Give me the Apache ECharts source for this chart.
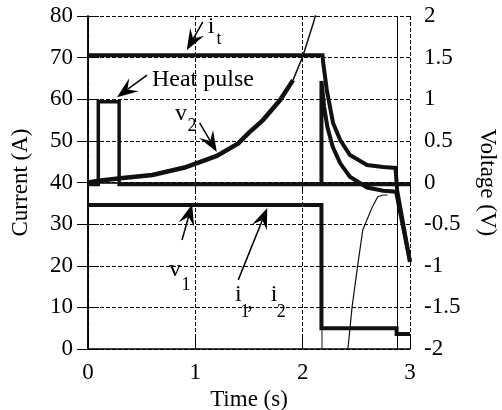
<!DOCTYPE html>
<html><head><meta charset="utf-8">
<script src="https://cdn.jsdelivr.net/npm/echarts@6/dist/echarts.min.js"></script>
<style>html,body{margin:0;padding:0;background:#fff}#c{width:502px;height:410px}</style>
</head><body><div id="c"></div>
<script>
// ---- data (time in s, current in A, voltage in V) ----
// total current i_t (left axis)
const itTime = [0, 2.185, 2.19, 2.225, 2.255, 2.283, 2.35, 2.44, 2.6, 2.75, 2.865, 2.88, 3.0];
const itCurr = [70.6, 70.6, 69, 62.2, 58.1, 54.3, 50.2, 46.6, 44.2, 43.7, 43.5, 38.2, 20.9];
// heat pulse with baseline (left axis)
const hpTime = [0, 0.096, 0.096, 0.29, 0.29, 3.0];
const hpCurr = [39.5, 39.5, 59.4, 59.4, 39.5, 39.5];
// i1, i2 (left axis)
const i12Time = [0, 2.175, 2.175, 2.875, 2.875, 3.0];
const i12Curr = [34.6, 34.6, 5.0, 5.0, 3.6, 3.6];
// edge below the step (left axis)
const edgeTime = [2.18, 2.18];
const edgeCurr = [0, 5.0];
// v2 rising part (right axis)
const v2Time = [0, 0.1, 0.3, 0.6, 0.9, 1.2, 1.4, 1.5, 1.63, 1.79, 1.91];
const v2Volt = [0.0, 0.02, 0.05, 0.09, 0.18, 0.32, 0.47, 0.6, 0.75, 0.99, 1.23];
// v2 thin continuation (right axis)
const v2tTime = [1.91, 2.0, 2.1, 2.14];
const v2tVolt = [1.23, 1.51, 1.92, 2.1];
// voltage after the pulse (right axis)
const vpTime = [2.175, 2.175, 2.2, 2.23, 2.28, 2.35, 2.44, 2.6, 2.75, 2.87, 3.0];
const vpVolt = [-0.02, 1.22, 0.91, 0.67, 0.43, 0.23, 0.07, -0.06, -0.1, -0.11, -0.95];
// thin recovering curve (right axis)
const vrTime = [2.42, 2.46, 2.51, 2.56, 2.65, 2.70, 2.75, 2.79];
const vrVolt = [-2.02, -1.5, -1.02, -0.57, -0.29, -0.17, -0.15, -0.15];
// full-height marker time
const markTimes = [2.88];

// annotations (data coords on time / current axes)
const arrowTail = [[1.07, 78.6], [0.55, 65.8], [1.04, 54.3], [0.876, 26.2], [1.40, 16.6]];
const arrowTip  = [[0.92, 71.8], [0.27, 60.5], [1.20, 47.3], [0.97, 34.8], [1.67, 33.9]];
const labelText = ['i', 't', 'Heat pulse', 'v', '2', 'v', '1', 'i', '1', ',', 'i', '2'];
const labelPos  = [[1.146, 77.4], [1.22, 74.3], [0.596, 64.6], [0.867, 56.5], [0.97, 53.4],
                   [0.81, 19.0], [0.913, 15.4], [1.40, 13.0], [1.463, 8.9], [1.51, 11.3], [1.733, 13.0], [1.80, 8.9]];
const labelSize = [24, 18, 24, 24, 18, 24, 18, 24, 18, 24, 24, 18];

const zip = (a, b) => a.map((v, i) => [v, b[i]]);
const FF = '"Liberation Serif", "Times New Roman", serif';
const black = '#000';

const chart = echarts.init(document.getElementById('c'), null, {renderer: 'canvas'});
const gridLine = {show: true, lineStyle: {color: black, width: 1, type: 'dashed', opacity: 1}};
const axisCommon = {
  axisLine: {show: true, lineStyle: {color: black, width: 1.5}},
  axisTick: {show: true, inside: true, length: 11, lineStyle: {color: black, width: 1}},
  axisLabel: {color: black, fontFamily: FF, fontSize: 23},
  nameTextStyle: {color: black, fontFamily: FF, fontSize: 23}
};
const lineS = (name, data, yIdx, width, z) => ({
  type: 'line', name, data, yAxisIndex: yIdx, showSymbol: false, symbol: 'none',
  lineStyle: {color: '#111', width: width, join: 'miter'}, z: z || 3, animation: false, clip: true
});

chart.setOption({
  animation: false,
  grid: {left: 88, right: 92, top: 16, bottom: 61, containLabel: false, outerBoundsMode: 'none'},
  xAxis: [
    Object.assign({}, axisCommon, {
      type: 'value', min: 0, max: 3, interval: 1, position: 'bottom',
      name: 'Time (s)', nameLocation: 'middle', nameGap: 31,
      axisLabel: Object.assign({}, axisCommon.axisLabel, {margin: 12}),
      splitLine: gridLine
    }),
    Object.assign({}, axisCommon, {
      type: 'value', min: 0, max: 3, interval: 1, position: 'top',
      axisLabel: {show: false}, splitLine: {show: false}
    })
  ],
  yAxis: [
    Object.assign({}, axisCommon, {
      type: 'value', min: 0, max: 80, interval: 10, position: 'left',
      name: 'Current (A)', nameLocation: 'middle', nameGap: 56, nameRotate: 90,
      axisLabel: Object.assign({}, axisCommon.axisLabel, {margin: 15}),
      splitLine: gridLine
    }),
    Object.assign({}, axisCommon, {
      type: 'value', min: -2, max: 2, interval: 0.5, position: 'right',
      name: 'Voltage (V)', nameLocation: 'middle', nameGap: 66, nameRotate: -90,
      axisLabel: Object.assign({}, axisCommon.axisLabel, {margin: 14}),
      splitLine: {show: false}
    })
  ],
  series: [
    lineS('heat', zip(hpTime, hpCurr), 0, 3.5),
    lineS('it', zip(itTime, itCurr), 0, 4),
    lineS('i12', zip(i12Time, i12Curr), 0, 4),
    lineS('edge', zip(edgeTime, edgeCurr), 0, 1),
    lineS('v2', zip(v2Time, v2Volt), 1, 4.5),
    lineS('v2thin', zip(v2tTime, v2tVolt), 1, 1.5),
    lineS('vpulse', zip(vpTime, vpVolt), 1, 4),
    lineS('vrec', zip(vrTime, vrVolt), 1, 1.2),
    {
      type: 'line', data: [], yAxisIndex: 0,
      markLine: {silent: true, symbol: 'none', label: {show: false},
        lineStyle: {color: black, width: 1, type: 'solid'},
        data: markTimes.map(t => ({xAxis: t}))}
    }
  ]
});

const toPx = p => chart.convertToPixel({xAxisIndex: 0, yAxisIndex: 0}, p);
const g = [];
arrowTail.forEach((tail, i) => {
  const a = toPx(tail), b = toPx(arrowTip[i]);
  const dx = b[0] - a[0], dy = b[1] - a[1], L = Math.hypot(dx, dy);
  const ux = dx / L, uy = dy / L, nx = -uy, ny = ux;
  const len = 21, half = 8, notch = 13;
  const base = [b[0] - ux * len, b[1] - uy * len];
  const mid = [b[0] - ux * notch, b[1] - uy * notch];
  g.push({type: 'polyline', z: 9, shape: {points: [a, mid]}, style: {stroke: black, lineWidth: 1.5}});
  g.push({type: 'polygon', z: 9, shape: {points: [b, [base[0] + nx * half, base[1] + ny * half], mid,
    [base[0] - nx * half, base[1] - ny * half]]}, style: {fill: black}});
});
labelText.forEach((s, i) => {
  const p = toPx(labelPos[i]);
  g.push({type: 'text', x: p[0], y: p[1], z: 10,
    style: {text: s, fill: black, fontSize: labelSize[i], fontFamily: FF,
      align: s === 'Heat pulse' ? 'left' : 'center', verticalAlign: 'middle'}});
});
chart.setOption({graphic: g});
</script></body></html>
